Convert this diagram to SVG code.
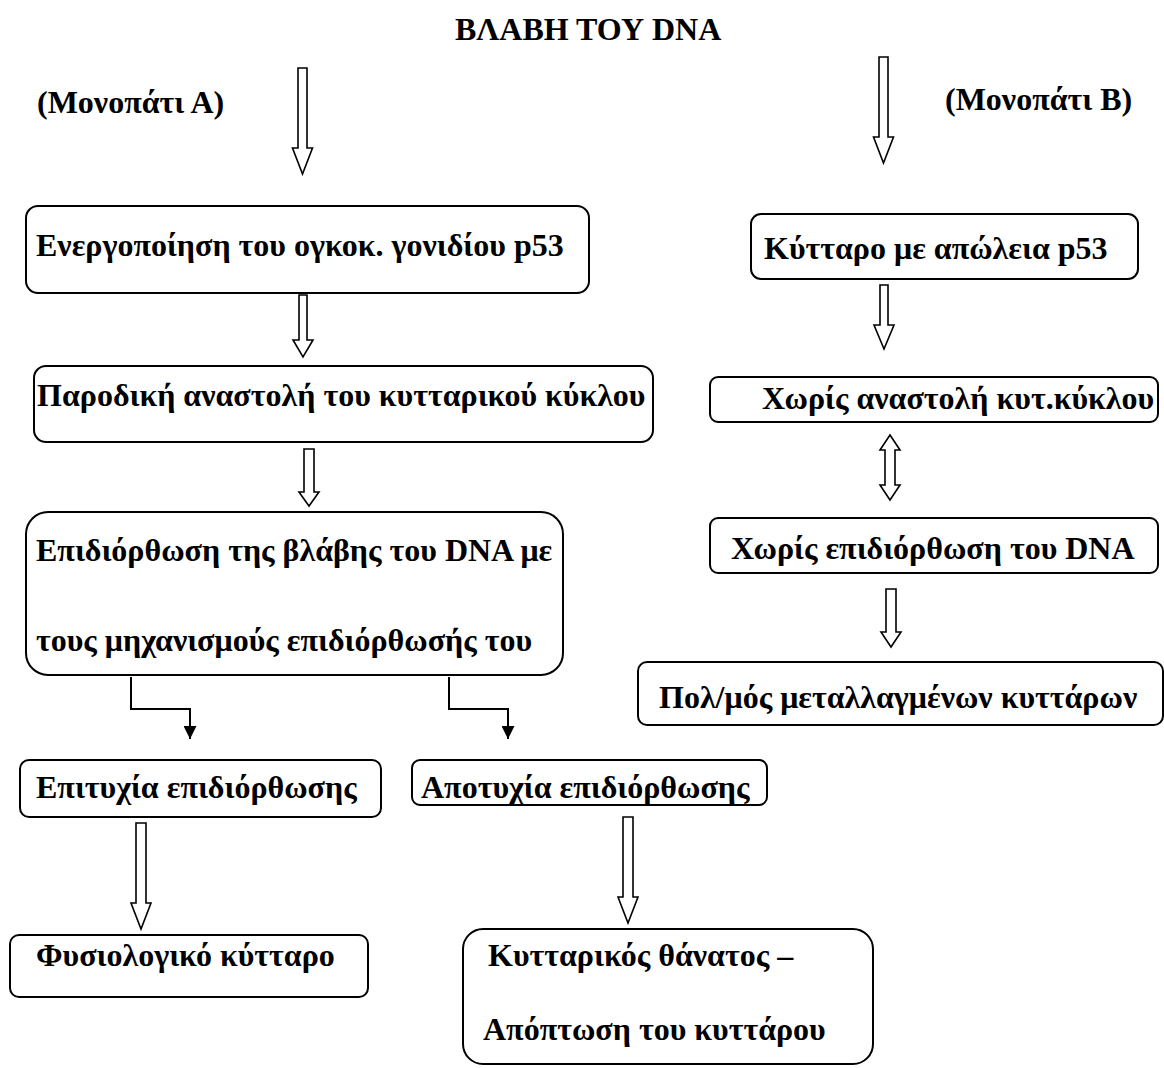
<svg xmlns="http://www.w3.org/2000/svg" width="1164" height="1068" viewBox="0 0 1164 1068" font-family="'Liberation Serif', 'Times New Roman', 'DejaVu Serif', serif">
<style>
text{font-family:'Liberation Serif','Times New Roman','DejaVu Serif',serif;font-weight:700;font-size:32px;fill:#000}
.box{fill:#fff;stroke:#000;stroke-width:2}
.blk{fill:#fff;stroke:#000;stroke-width:1.6;stroke-linejoin:miter}
.elb{fill:none;stroke:#000;stroke-width:2}
</style>
<defs>
<marker id="tri" viewBox="0 0 10 10" refX="10" refY="5" markerWidth="14" markerHeight="13" markerUnits="userSpaceOnUse" orient="auto">
<path d="M0,0 L10,5 L0,10 Z" fill="#000"/>
</marker>
</defs>
<rect width="1164" height="1068" fill="#fff"/>
<g id="title"><text x="455" y="40">ΒΛΑΒΗ ΤΟΥ DNA</text></g>
<g id="pathA-label"><text x="37" y="113">(Μονοπάτι Α)</text></g>
<g id="pathB-label"><text x="945" y="110">(Μονοπάτι Β)</text></g>

<g id="connectors">
<polygon class="blk" points="298,68 307,68 307,148 312.5,148 302.5,174 292.5,148 298,148"/>
<polygon class="blk" points="879,57 888,57 888,137 893.5,137 883.5,163 873.5,137 879,137"/>
<polygon class="blk" points="299,295 307,295 307,340 313,340 303,357 293,340 299,340"/>
<polygon class="blk" points="304,449 314,449 314,492 319,492 309,506 299,492 304,492"/>
<polygon class="blk" points="880,285 888,285 888,325 894,325 884,349 874,325 880,325"/>
<polygon class="blk" points="890,435 900,450 895,450 895,485 900,485 890,500 880,485 885,485 885,450 880,450"/>
<polygon class="blk" points="886,589 896,589 896,632 901,632 891,647 881,632 886,632"/>
<polygon class="blk" points="136,823 146,823 146,903 151,903 141,929 131,903 136,903"/>
<polygon class="blk" points="623,817 633,817 633,897 638,897 628,923 618,897 623,897"/>
<path class="elb" d="M131,677 V709 H190 V739" marker-end="url(#tri)"/>
<path class="elb" d="M449,677 V709 H508 V739" marker-end="url(#tri)"/>
</g>

<g id="nodeA1"><rect class="box" x="26" y="206" width="563" height="87" rx="12"/><text x="36" y="256">Ενεργοποίηση του ογκοκ. γονιδίου p53</text></g>
<g id="nodeA2"><rect class="box" x="34" y="366" width="619" height="76" rx="12"/><text x="37" y="406">Παροδική αναστολή του κυτταρικού κύκλου</text></g>
<g id="nodeA3"><rect class="box" x="26" y="512" width="537" height="163" rx="22"/><text x="36" y="561">Επιδιόρθωση της βλάβης του DNA με</text><text x="36" y="651">τους μηχανισμούς επιδιόρθωσής του</text></g>
<g id="nodeA4"><rect class="box" x="20" y="760" width="361" height="57" rx="9"/><text x="36" y="798">Επιτυχία επιδιόρθωσης</text></g>
<g id="nodeA5"><rect class="box" x="412" y="760" width="355" height="45" rx="8"/><text x="421" y="798">Αποτυχία επιδιόρθωσης</text></g>
<g id="nodeA6"><rect class="box" x="10" y="935" width="358" height="62" rx="9"/><text x="36" y="966">Φυσιολογικό κύτταρο</text></g>
<g id="nodeA7"><rect class="box" x="463" y="929" width="410" height="135" rx="20"/><text x="488" y="966">Κυτταρικός θάνατος –</text><text x="483" y="1040">Απόπτωση του κυττάρου</text></g>

<g id="nodeB1"><rect class="box" x="751" y="214" width="387" height="65" rx="10"/><text x="764" y="259">Κύτταρο με απώλεια p53</text></g>
<g id="nodeB2"><rect class="box" x="710" y="377" width="448" height="45" rx="8"/><text x="762" y="409">Χωρίς αναστολή κυτ.κύκλου</text></g>
<g id="nodeB3"><rect class="box" x="710" y="518" width="448" height="55" rx="8"/><text x="731" y="559">Χωρίς επιδιόρθωση του DNA</text></g>
<g id="nodeB4"><rect class="box" x="638" y="662" width="525" height="63" rx="9"/><text x="659" y="708">Πολ/μός μεταλλαγμένων κυττάρων</text></g>
</svg>
